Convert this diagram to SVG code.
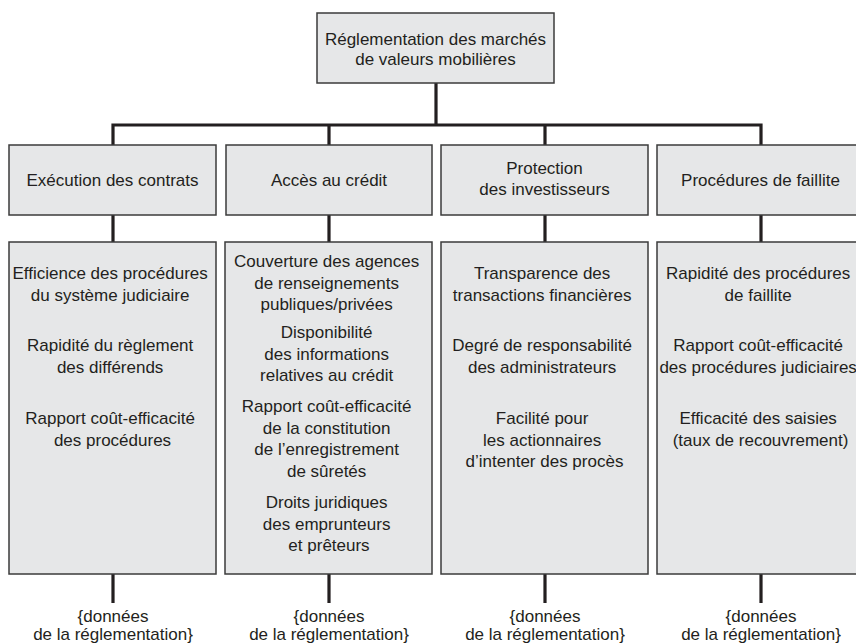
<svg xmlns="http://www.w3.org/2000/svg" width="856" height="644" viewBox="0 0 856 644">
<style>
.box{fill:#e6e7e8;stroke:#3b3b3b;stroke-width:1.5}
.t{font-family:"Liberation Sans",Arial,sans-serif;font-size:17px;fill:#231f20;text-anchor:middle}
.c{stroke:#231f20;stroke-width:3.2;fill:none}
</style>
<rect width="856" height="644" fill="#ffffff"/>
<g id="connectors">
<path class="c" d="M436 83V125"/>
<path class="c" d="M113 145V125H761V145"/>
<path class="c" d="M329 125V145M545 125V145"/>
<path class="c" d="M113 215V242M329 215V242M545 215V242M761 215V242"/>
<path class="c" d="M113 574V603M329 574V603M545 574V603M761 574V603"/>
</g>
<g id="root">
<rect class="box" x="317" y="13" width="237" height="70"/>
<text class="t"><tspan x="435.5" y="45">Réglementation des marchés</tspan><tspan x="435.5" y="65">de valeurs mobilières</tspan></text>
</g>
<g id="execution">
<rect class="box" x="9" y="145" width="207" height="70"/>
<text class="t" x="112.5" y="186">Exécution des contrats</text>
</g>
<g id="credit">
<rect class="box" x="226" y="145" width="206" height="70"/>
<text class="t" x="329" y="186">Accès au crédit</text>
</g>
<g id="protection">
<rect class="box" x="441" y="145" width="207" height="70"/>
<text class="t"><tspan x="544.5" y="174">Protection</tspan><tspan x="544.5" y="194.5">des investisseurs</tspan></text>
</g>
<g id="faillite">
<rect class="box" x="657" y="145" width="207" height="70"/>
<text class="t" x="760.5" y="186">Procédures de faillite</text>
</g>
<g id="execution-details">
<rect class="box" x="9" y="242" width="207" height="332"/>
<text class="t">
<tspan x="112.5" y="279">Efficience des procédures</tspan>
<tspan x="112.5" y="300.5">du système judiciaire</tspan>
<tspan x="112.5" y="351">Rapidité du règlement</tspan>
<tspan x="112.5" y="372.5">des différends</tspan>
<tspan x="112.5" y="424">Rapport coût-efficacité</tspan>
<tspan x="112.5" y="445.5">des procédures</tspan>
</text>
</g>
<g id="credit-details">
<rect class="box" x="225" y="242" width="207" height="332"/>
<text class="t">
<tspan x="329" y="267">Couverture des agences</tspan>
<tspan x="329" y="288.5">de renseignements</tspan>
<tspan x="329" y="310">publiques/privées</tspan>
<tspan x="329" y="338">Disponibilité</tspan>
<tspan x="329" y="359.5">des informations</tspan>
<tspan x="329" y="381">relatives au crédit</tspan>
<tspan x="329" y="412">Rapport coût-efficacité</tspan>
<tspan x="329" y="433.5">de la constitution</tspan>
<tspan x="329" y="455">de l’enregistrement</tspan>
<tspan x="329" y="476.5">de sûretés</tspan>
<tspan x="329" y="508">Droits juridiques</tspan>
<tspan x="329" y="529.5">des emprunteurs</tspan>
<tspan x="329" y="551">et prêteurs</tspan>
</text>
</g>
<g id="protection-details">
<rect class="box" x="441" y="242" width="207" height="332"/>
<text class="t">
<tspan x="544.5" y="279">Transparence des</tspan>
<tspan x="544.5" y="300.5">transactions financières</tspan>
<tspan x="544.5" y="351">Degré de responsabilité</tspan>
<tspan x="544.5" y="372.5">des administrateurs</tspan>
<tspan x="544.5" y="424">Facilité pour</tspan>
<tspan x="544.5" y="445.5">les actionnaires</tspan>
<tspan x="544.5" y="467">d’intenter des procès</tspan>
</text>
</g>
<g id="faillite-details">
<rect class="box" x="657" y="242" width="207" height="332"/>
<text class="t">
<tspan x="760.5" y="279">Rapidité des procédures</tspan>
<tspan x="760.5" y="300.5">de faillite</tspan>
<tspan x="760.5" y="351">Rapport coût-efficacité</tspan>
<tspan x="760.5" y="372.5">des procédures judiciaires</tspan>
<tspan x="760.5" y="424">Efficacité des saisies</tspan>
<tspan x="760.5" y="445.5">(taux de recouvrement)</tspan>
</text>
</g>
<g id="data-1">
<text class="t"><tspan x="113" y="621.5">{données</tspan><tspan x="113" y="640">de la réglementation}</tspan></text>
</g>
<g id="data-2">
<text class="t"><tspan x="329" y="621.5">{données</tspan><tspan x="329" y="640">de la réglementation}</tspan></text>
</g>
<g id="data-3">
<text class="t"><tspan x="545" y="621.5">{données</tspan><tspan x="545" y="640">de la réglementation}</tspan></text>
</g>
<g id="data-4">
<text class="t"><tspan x="761" y="621.5">{données</tspan><tspan x="761" y="640">de la réglementation}</tspan></text>
</g>
</svg>
